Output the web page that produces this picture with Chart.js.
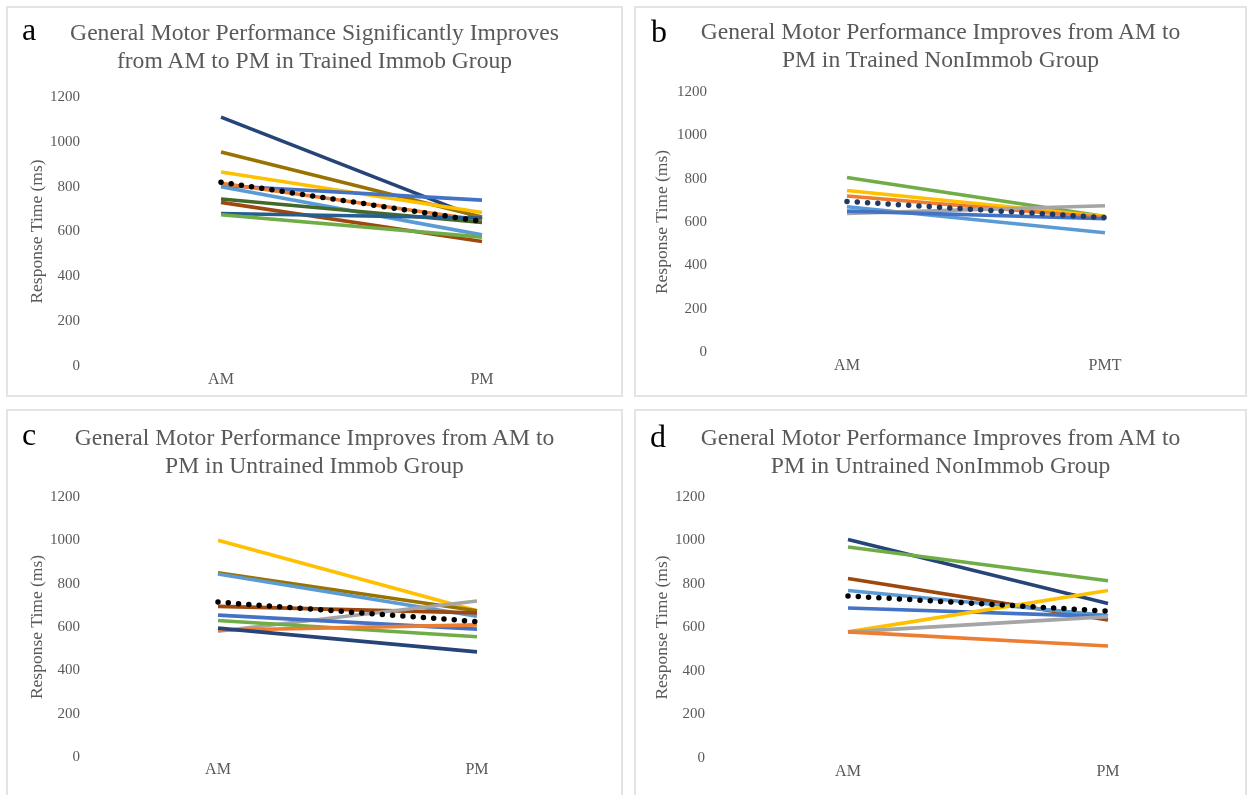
<!DOCTYPE html>
<html>
<head>
<meta charset="utf-8">
<script src="https://cdn.jsdelivr.net/npm/chart.js@4.4.1/dist/chart.umd.min.js"></script>
<style>
  html, body { margin:0; padding:0; background:#fff; }
  body { width:1248px; height:795px; position:relative; overflow:hidden; font-family:"Liberation Serif", serif; }
  .box { position:absolute; box-sizing:border-box; border:2px solid #e4e4e4; }
  canvas { position:absolute; }
  .title { position:absolute; text-align:center; color:#595959; font-size:23.6px; line-height:28px; white-space:nowrap; }
  .letter { position:absolute; color:#000; font-size:32px; line-height:32px; }
</style>
</head>
<body>
<div class="box" style="left:6px;top:6px;width:617px;height:391px"></div>
<div class="box" style="left:634px;top:6px;width:613px;height:391px"></div>
<div class="box" style="left:6px;top:409px;width:617px;height:392px"></div>
<div class="box" style="left:634px;top:409px;width:613px;height:392px"></div>

<canvas id="ca" style="left:6px;top:6px"></canvas>
<canvas id="cb" style="left:634px;top:6px"></canvas>
<canvas id="cc" style="left:6px;top:409px"></canvas>
<canvas id="cd" style="left:634px;top:409px"></canvas>

<div class="letter" style="left:22px;top:13px">a</div>
<div class="letter" style="left:651px;top:15px">b</div>
<div class="letter" style="left:22px;top:418px">c</div>
<div class="letter" style="left:650px;top:420px">d</div>

<div class="title" style="left:6px;width:617px;top:18px">General Motor Performance Significantly Improves<br>from AM to PM in Trained Immob Group</div>
<div class="title" style="left:634px;width:613px;top:17px">General Motor Performance Improves from AM to<br>PM in Trained NonImmob Group</div>
<div class="title" style="left:6px;width:617px;top:423px">General Motor Performance Improves from AM to<br>PM in Untrained Immob Group</div>
<div class="title" style="left:634px;width:613px;top:423px">General Motor Performance Improves from AM to<br>PM in Untrained NonImmob Group</div>

<script>
// ---- data ----
const yTicks = [0, 200, 400, 600, 800, 1000, 1200];

// Panel a: Trained Immob
const catsA = ["AM", "PM"];
const amA = [1110, 955, 865, 805, 800, 815, 745, 730, 680, 675];
const pmA = [655, 665, 685, 740, 585, 650, 640, 555, 660, 575];
const colA = ["#264478", "#997300", "#FFC000", "#4472C4", "#5B9BD5", "#ED7D31", "#43682B", "#9E480E", "#255E91", "#70AD47"];
const meanA = [820, 645];

// Panel b: Trained NonImmob
const catsB = ["AM", "PMT"];
const amB = [805, 745, 720, 670, 640, 650];
const pmB = [625, 625, 620, 550, 675, 615];
const colB = ["#70AD47", "#FFC000", "#ED7D31", "#5B9BD5", "#A5A5A5", "#4472C4"];
const meanB = [695, 620];

// Panel c: Untrained Immob
const catsC = ["AM", "PM"];
const amC = [1000, 850, 845, 695, 580, 655, 630, 585, 595];
const pmC = [675, 675, 650, 665, 720, 590, 555, 610, 485];
const colC = ["#FFC000", "#997300", "#5B9BD5", "#9E480E", "#A5A5A5", "#4472C4", "#70AD47", "#ED7D31", "#264478"];
const meanC = [715, 625];

// Panel d: Untrained NonImmob
const catsD = ["AM", "PM"];
const amD = [1005, 970, 825, 770, 690, 580, 580, 580];
const pmD = [710, 815, 635, 655, 650, 770, 650, 515];
const colD = ["#264478", "#70AD47", "#9E480E", "#5B9BD5", "#4472C4", "#FFC000", "#A5A5A5", "#ED7D31"];
const meanD = [745, 675];

// ---- drawing ----
const FONT = "'Liberation Serif', 'Times New Roman', serif";
const GREY = "#595959";

function panel(id, w, h, cats, am, pm, cols, mean, meanColor, L) {
  const cv = document.getElementById(id);
  cv.width = w; cv.height = h;
  cv.style.width = w + "px"; cv.style.height = h + "px";
  const datasets = [{
    data: mean, borderColor: meanColor, borderWidth: 5.5, borderDash: [0, 10.3],
    borderCapStyle: "round", pointRadius: 0, fill: false, tension: 0, order: 0
  }];
  am.forEach((v, i) => {
    datasets.push({
      data: [v, pm[i]], borderColor: cols[i], borderWidth: 3.6, pointRadius: 0,
      fill: false, tension: 0, order: am.length - i, borderCapStyle: "butt"
    });
  });
  new Chart(cv, {
    type: "line",
    data: { labels: cats, datasets },
    options: {
      responsive: false, animation: false, devicePixelRatio: 1,
      layout: { padding: { top: L.top, right: L.right, left: 0, bottom: 0 } },
      plugins: { legend: { display: false }, tooltip: { enabled: false }, title: { display: false } },
      scales: {
        x: {
          offset: true,
          grid: { display: false, drawTicks: false }, border: { display: false },
          ticks: { color: GREY, font: { family: FONT, size: 16 }, padding: L.xpad },
          afterFit: s => { s.height = L.xh; }
        },
        y: {
          min: 0, max: 1200,
          afterBuildTicks: s => { s.ticks = yTicks.map(v => ({ value: v })); },
          grid: { display: false, drawTicks: false }, border: { display: false },
          ticks: { color: GREY, font: { family: FONT, size: 15 }, padding: L.ypad,
                   callback: v => String(v) },
          title: { display: true, text: "Response Time (ms)", color: GREY,
                   font: { family: FONT, size: 17.5 }, padding: { top: L.tpad, bottom: 0 } },
          afterFit: s => { s.width = L.yw; }
        }
      }
    }
  });
}

panel("ca", 617, 391, catsA, amA, pmA, colA, meanA, "#000000",
  { top: 91, right: 10.5, yw: 84.5, xh: 31, xpad: 4, ypad: 10.5, tpad: 20.5 });
panel("cb", 613, 391, catsB, amB, pmB, colB, meanB, "#1F3864",
  { top: 86, right: 13, yw: 84, xh: 45, xpad: 4, ypad: 11, tpad: 17.5 });
panel("cc", 617, 386, catsC, amC, pmC, colC, meanC, "#000000",
  { top: 88, right: 16.5, yw: 82.5, xh: 38, xpad: 3, ypad: 8.5, tpad: 20.5 });
panel("cd", 613, 386, catsD, amD, pmD, colD, meanD, "#000000",
  { top: 88, right: 9, yw: 84, xh: 37, xpad: 4, ypad: 13, tpad: 17.5 });
</script>
</body>
</html>
